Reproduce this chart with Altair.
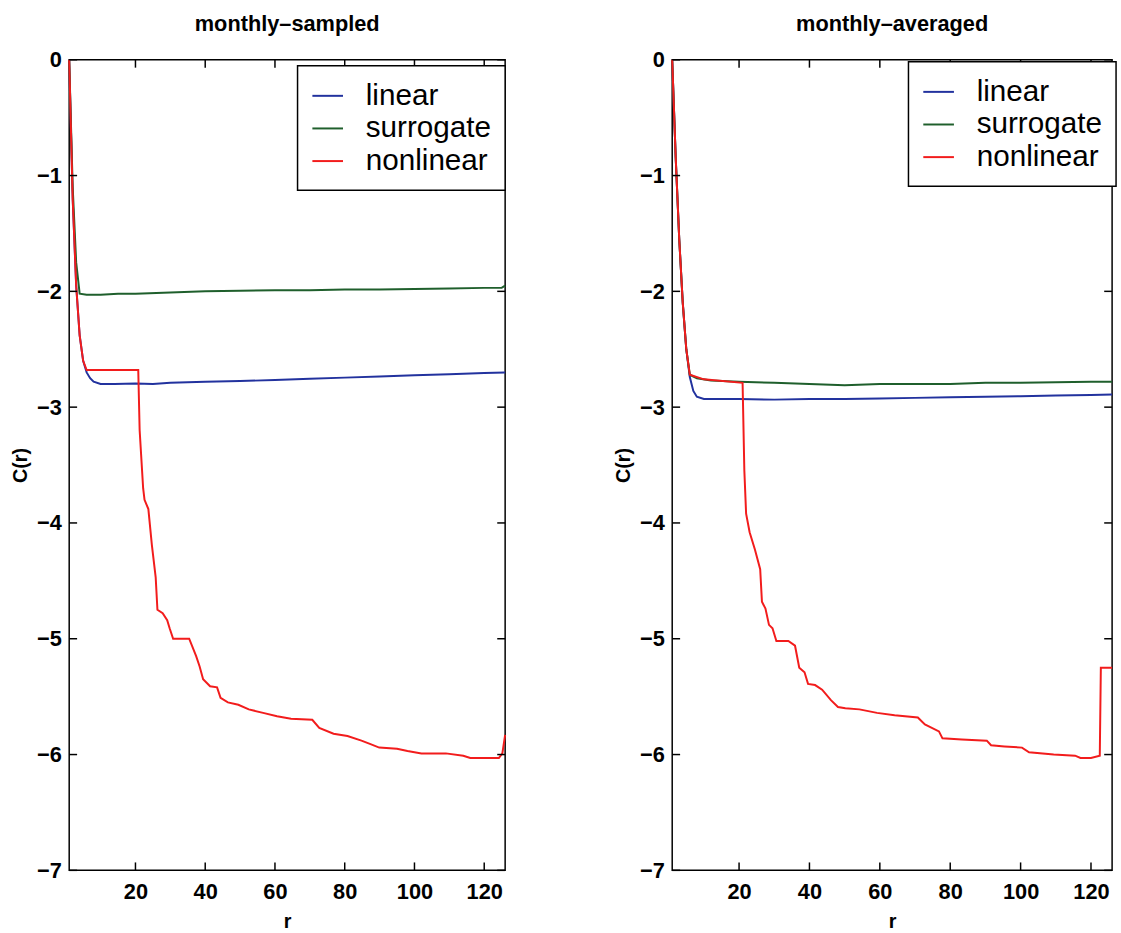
import altair as alt
import pandas as pd

FONT = "Liberation Sans"
SERIES = ["linear", "surrogate", "nonlinear"]
COLORS = ["#22329e", "#1f5f2c", "#f21c1c"]
X_TICKS = [20, 40, 60, 80, 100, 120]
Y_TICKS = [-7, -6, -5, -4, -3, -2, -1, 0]

# ---------------- monthly-sampled ----------------
lin_s_r = [1, 2, 3, 4, 5, 6, 7, 8, 10, 14, 20, 25, 30, 40, 50, 60, 70, 80, 90, 100, 110, 120, 126]
lin_s_c = [0, -1.2, -1.95, -2.38, -2.6, -2.7, -2.75, -2.78, -2.8, -2.8, -2.795, -2.8, -2.79, -2.78, -2.775,
           -2.765, -2.755, -2.745, -2.735, -2.725, -2.715, -2.705, -2.7]
sur_s_r = [1, 2, 3, 4, 6, 10, 15, 20, 30, 40, 50, 60, 70, 80, 90, 100, 110, 120, 125, 126]
sur_s_c = [0, -1.1, -1.75, -2.02, -2.03, -2.03, -2.02, -2.02, -2.01, -2.0, -1.995, -1.99, -1.99, -1.985,
           -1.985, -1.98, -1.975, -1.97, -1.97, -1.95]
non_s_r = [1, 2, 3, 4, 5, 6, 20.8, 21.2, 22.2, 22.6, 23.7, 24.7, 25.8, 26.3, 27.8, 29.1, 29.8, 30.8, 35.4,
           37.4, 38.4, 39.4, 41.4, 43.4, 44.4, 46.5, 49.5, 52.5, 56.6, 60.6, 64.6, 70.7, 72.7, 76.8, 80.8,
           84.8, 87.4, 89.9, 95, 98, 102, 109, 114, 116, 124.2, 125.2, 126]
non_s_c = [0, -1.2, -1.95, -2.38, -2.6, -2.68, -2.68, -3.2, -3.7, -3.8, -3.88, -4.19, -4.47, -4.75, -4.78,
           -4.84, -4.91, -5.0, -5.0, -5.15, -5.24, -5.35, -5.41, -5.42, -5.51, -5.55, -5.57, -5.61, -5.64,
           -5.67, -5.69, -5.7, -5.77, -5.82, -5.84, -5.88, -5.91, -5.94, -5.95, -5.97, -5.99, -5.99, -6.01,
           -6.03, -6.03, -5.99, -5.83]

# ---------------- monthly-averaged ----------------
lin_a_r = [1, 2, 3, 4, 5, 6, 7, 8, 10, 15, 20, 30, 40, 50, 60, 70, 80, 90, 100, 110, 120, 126]
lin_a_c = [0, -0.85, -1.55, -2.1, -2.5, -2.74, -2.86, -2.91, -2.93, -2.93, -2.93, -2.935, -2.93, -2.93,
           -2.925, -2.92, -2.915, -2.91, -2.905, -2.9, -2.895, -2.89]
sur_a_r = [1, 2, 3, 4, 5, 6, 8, 12, 20, 30, 40, 50, 60, 70, 80, 90, 100, 110, 120, 126]
sur_a_c = [0, -0.85, -1.55, -2.1, -2.5, -2.72, -2.75, -2.77, -2.78, -2.79, -2.8, -2.81, -2.8, -2.8, -2.8,
           -2.79, -2.79, -2.785, -2.78, -2.78]
non_a_r = [1, 2, 3, 4, 5, 6, 10, 21, 21.5, 22, 23, 24.5, 26, 26.5, 27.5, 28.5, 29.5, 30.6, 34, 35.9, 37.1,
           38.6, 39.6, 41.6, 43.6, 46.1, 48.1, 50.2, 54.2, 59.2, 64.2, 70.8, 72.8, 76.8, 77.8, 83.3, 90.4,
           91.6, 95.4, 100.4, 102.4, 109.4, 115.5, 117, 120, 122.5, 122.8, 126]
non_a_c = [0, -0.85, -1.55, -2.1, -2.5, -2.72, -2.76, -2.79, -3.55, -3.92, -4.08, -4.23, -4.40, -4.68,
           -4.74, -4.88, -4.91, -5.02, -5.02, -5.06, -5.25, -5.29, -5.39, -5.40, -5.44, -5.53, -5.59, -5.60,
           -5.61, -5.64, -5.66, -5.68, -5.74, -5.80, -5.86, -5.87, -5.88, -5.92, -5.93, -5.94, -5.98, -6.0,
           -6.01, -6.03, -6.03, -6.01, -5.25, -5.25]

H = 820
TICK = 8


def series_df(rs, cs, name):
    return pd.DataFrame({"r": rs, "C": cs, "series": name, "i": list(range(len(rs)))})


def axis(values, label_pad, title_pad):
    return alt.Axis(values=values, ticks=False, tickSize=0, domain=False, grid=False,
                    labelFontSize=22, labelPadding=label_pad, titleFontSize=20, titlePadding=title_pad,
                    labelFont=FONT, titleFont=FONT, labelColor="black", titleColor="black",
                    labelFontWeight="bold", titleFontWeight="bold", labelFlush=False)


def panel(title, lists, W, lx, ly):
    xs = alt.Scale(domain=[1, 126], nice=False, zero=False)
    ys = alt.Scale(domain=[-7, 0], nice=False, zero=False)
    xax = axis(X_TICKS, 11, 10)
    yax = axis(Y_TICKS, 8, 6)
    color = alt.Color("series:N", scale=alt.Scale(domain=SERIES, range=COLORS),
                      legend=alt.Legend(title=None, orient="none", legendX=lx, legendY=ly))
    layers = []
    for name, (rs, cs) in zip(SERIES, lists):
        layers.append(
            alt.Chart(series_df(rs, cs, name)).mark_line(strokeWidth=2).encode(
                x=alt.X("r:Q", scale=xs, axis=xax, title="r"),
                y=alt.Y("C:Q", scale=ys, axis=yax, title="C(r)"),
                color=color,
                order="i:Q",
            )
        )
    xt = pd.DataFrame({"t": X_TICKS})
    yt = pd.DataFrame({"t": Y_TICKS})
    rule = dict(color="black", strokeWidth=1.5)
    xenc = alt.X("t:Q", scale=xs, axis=xax, title="r")
    yenc = alt.Y("t:Q", scale=ys, axis=yax, title="C(r)")
    layers += [
        alt.Chart(xt).mark_rule(**rule).encode(x=xenc, y=alt.value(H), y2=alt.value(H - TICK)),
        alt.Chart(xt).mark_rule(**rule).encode(x=xenc, y=alt.value(0), y2=alt.value(TICK)),
        alt.Chart(yt).mark_rule(**rule).encode(y=yenc, x=alt.value(0), x2=alt.value(TICK)),
        alt.Chart(yt).mark_rule(**rule).encode(y=yenc, x=alt.value(W), x2=alt.value(W - TICK)),
    ]
    return alt.layer(*layers).properties(
        width=W, height=H,
        title=alt.TitleParams(title, font=FONT, fontSize=22, fontWeight="bold", color="black",
                              anchor="middle", baseline="alphabetic", offset=-4),
    )


left = panel("monthly\u2013sampled", [(lin_s_r, lin_s_c), (sur_s_r, sur_s_c), (non_s_r, non_s_c)],
             441, 231, 6)
right = panel("monthly\u2013averaged", [(lin_a_r, lin_a_c), (sur_a_r, sur_a_c), (non_a_r, non_a_c)],
              445, 239, 2)

chart = (
    alt.hconcat(left, right, spacing=104)
    .resolve_scale(color="independent")
    .resolve_legend(color="independent")
    .properties(padding={"left": 10, "top": 7, "right": 3, "bottom": 0}, background="white")
    .configure_view(stroke="black", strokeWidth=1.5)
    .configure_legend(strokeColor="black", strokeWidth=1.5, fillColor="white", padding=14, rowPadding=1,
                      labelFontSize=30, labelFont=FONT, labelColor="black", symbolType="stroke",
                      symbolSize=961, symbolStrokeWidth=2, labelOffset=22, cornerRadius=0)
)

chart.save("out.html", embed_options={"renderer": "svg", "actions": False})
